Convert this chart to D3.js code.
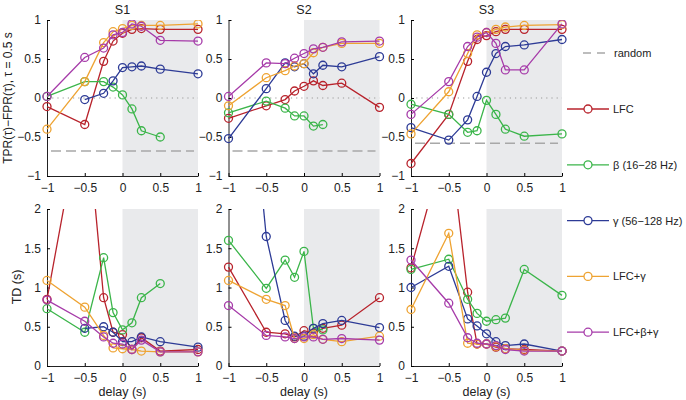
<!DOCTYPE html>
<html>
<head>
<meta charset="utf-8">
<script src="https://cdn.jsdelivr.net/npm/d3@7"></script>
<style>
  body { margin: 0; background: #fff; }
  svg { font-family: "Liberation Sans", Arial, sans-serif; }
</style>
</head>
<body>
<svg width="686" height="400"></svg>
<script>
// delays (s) shared by every panel
const delays = [-1, -0.5, -0.25, -0.125, 0, 0.125, 0.25, 0.5, 1];
const subjects = ["S1", "S2", "S3"];

// TPR-FPR (top row); null = not measured
const tprLFC   = [[-0.11, -0.34, 0.47, 0.73, 0.83, 0.88, 0.89, 0.88, 0.88],
                  [-0.26, -0.10, -0.02, 0.09, 0.15, 0.22, 0.16, 0.19, -0.12],
                  [-0.84, -0.21, 0.47, 0.75, 0.80, 0.85, 0.88, 0.88, 0.88]];
const tprBeta  = [[0.02, 0.21, 0.21, 0.14, 0.04, -0.14, -0.42, -0.50, null],
                  [-0.19, -0.04, -0.13, -0.23, -0.23, -0.36, -0.34, null, null],
                  [-0.08, -0.21, -0.44, -0.42, -0.03, -0.21, -0.40, -0.49, -0.46]];
const tprGamma = [[null, -0.02, 0.06, 0.22, 0.39, 0.40, 0.41, 0.37, 0.31],
                  [-0.52, 0.12, 0.45, 0.40, 0.44, 0.31, 0.42, 0.40, 0.53],
                  [-0.38, -0.54, -0.28, 0.02, 0.33, 0.57, 0.66, 0.68, 0.75]];
const tprLG    = [[-0.40, 0.21, 0.71, 0.85, 0.89, 0.93, 0.93, 0.93, 0.95],
                  [-0.10, 0.26, 0.35, 0.41, 0.44, 0.58, 0.65, 0.70, 0.70],
                  [-0.46, 0.08, 0.57, 0.81, 0.84, 0.88, 0.91, 0.93, 0.94]];
const tprLBG   = [[0.02, 0.52, 0.64, 0.81, 0.84, 0.95, 0.92, 0.74, 0.73],
                  [0.02, 0.45, 0.44, 0.51, 0.57, 0.63, 0.65, 0.72, 0.73],
                  [-0.21, 0.21, 0.66, 0.78, 0.84, 0.70, 0.36, 0.36, 0.95]];
const randomLevel = [-0.68, -0.68, -0.58];

// TD in seconds (bottom row)
const tdLFC   = [[0.85, 3.47, 0.87, 0.43, 0.40, 0.21, 0.36, 0.19, 0.21],
                 [1.26, 0.43, 0.41, 0.37, 0.45, 0.42, 0.48, 0.52, 0.87],
                 [1.25, 3.0, 0.94, 0.28, 0.28, 0.24, 0.22, 0.21, 0.19]];
const tdBeta  = [[0.73, 0.43, 1.38, 0.68, 0.46, 0.55, 0.87, 1.05, null],
                 [1.60, 0.99, 1.35, 1.13, 1.46, 0.48, 0.46, null, null],
                 [1.23, 1.36, 0.85, 0.67, 0.57, 0.59, 0.61, 1.23, 0.90]];
const tdGamma = [[null, 0.48, 0.50, 0.43, 0.31, 0.31, 0.37, 0.31, 0.24],
                 [6.6, 1.65, 0.58, 0.38, 0.38, 0.48, 0.54, 0.58, 0.49],
                 [1.00, 1.27, 0.60, 0.51, 0.41, 0.31, 0.26, 0.28, 0.19]];
const tdLG    = [[1.09, 0.75, 0.39, 0.23, 0.22, 0.21, 0.19, 0.18, 0.18],
                 [1.09, 0.85, 0.77, 0.35, 0.35, 0.40, 0.34, 0.31, 0.38],
                 [0.72, 1.69, 0.29, 0.28, 0.28, 0.25, 0.22, 0.20, 0.19]];
const tdLBG   = [[0.84, 0.57, 0.37, 0.29, 0.28, 0.21, 0.33, 0.18, 0.18],
                 [0.77, 0.39, 0.37, 0.35, 0.37, 0.37, 0.34, 0.35, 0.33],
                 [1.35, 0.80, 0.36, 0.29, 0.28, 0.26, 0.21, 0.19, 0.19]];

const seriesNames = ["LFC", "β (16−28 Hz)", "γ (56−128 Hz)", "LFC+γ", "LFC+β+γ"];
const seriesColors = ["#b8232c", "#3bb54a", "#2d3b96", "#eea332", "#a63ba9"];
const tprSeries = [tprLFC, tprBeta, tprGamma, tprLG, tprLBG];
const tdSeries = [tdLFC, tdBeta, tdGamma, tdLG, tdLBG];

const topTicks = [-1, -0.5, 0, 0.5, 1];
const bottomTicks = [0, 0.5, 1, 1.5, 2];
const xTicks = [-1, -0.5, 0, 0.5, 1];

// --- layout ---
const svg = d3.select("svg");
const colLeft = [47, 228.5, 411];
const pw = 151;
const rows = [
  { top: 20, bottom: 176, domain: [-1, 1], ticks: topTicks, series: tprSeries, label: "TPR(τ)−FPR(τ), τ = 0.5 s" },
  { top: 209, bottom: 366, domain: [0, 2], ticks: bottomTicks, series: tdSeries, label: "TD (s)" }
];

const fmt = v => (v < 0 ? "−" : "") + String(Math.abs(v));

rows.forEach((row, ri) => {
  subjects.forEach((subj, si) => {
    const x = d3.scaleLinear().domain([-1, 1]).range([colLeft[si], colLeft[si] + pw]);
    const y = d3.scaleLinear().domain(row.domain).range([row.bottom, row.top]);
    const g = svg.append("g");
    const clipId = `clip-${ri}-${si}`;
    svg.append("clipPath").attr("id", clipId)
      .append("rect")
      .attr("x", x(-1) - 6).attr("y", row.top)
      .attr("width", pw + 12).attr("height", row.bottom - row.top);

    // shaded region 0..1
    g.append("rect")
      .attr("x", x(0)).attr("y", y(row.domain[1]))
      .attr("width", x(1) - x(0)).attr("height", y(row.domain[0]) - y(row.domain[1]))
      .attr("fill", "#e9eaec");

    if (ri === 0) {
      g.append("line")
        .attr("x1", x(-1)).attr("x2", x(1)).attr("y1", y(0)).attr("y2", y(0))
        .attr("stroke", "#9a9a9a").attr("stroke-width", 1.2)
        .attr("stroke-dasharray", "1.2,4");
      g.append("line")
        .attr("x1", x(-1) + 4).attr("x2", x(1) - 4)
        .attr("y1", y(randomLevel[si])).attr("y2", y(randomLevel[si]))
        .attr("stroke", "#a8a8a8").attr("stroke-width", 1.5)
        .attr("stroke-dasharray", "10,5");
    }

    // axes
    g.append("g")
      .attr("transform", `translate(0,${row.bottom})`)
      .call(d3.axisBottom(x).tickValues(xTicks).tickFormat(fmt)
        .tickSizeInner(-3).tickSizeOuter(0).tickPadding(7))
      .call(a => a.select(".domain").attr("stroke", "#222"))
      .call(a => a.selectAll("text").style("font-size", "12px").attr("fill", "#222"));
    g.append("g")
      .attr("transform", `translate(${x(-1)},0)`)
      .call(d3.axisLeft(y).tickValues(row.ticks).tickFormat(fmt)
        .tickSizeInner(-3).tickSizeOuter(0).tickPadding(6))
      .call(a => a.select(".domain").attr("stroke", "#222"))
      .call(a => a.selectAll("text").style("font-size", "12px").attr("fill", "#222"));

    const plot = g.append("g").attr("clip-path", `url(#${clipId})`);
    row.series.forEach((ser, k) => {
      const pts = delays.map((d, i) => ({ d, v: ser[si][i] })).filter(p => p.v !== null);
      const line = d3.line().x(p => x(p.d)).y(p => y(p.v));
      plot.append("path")
        .datum(pts)
        .attr("fill", "none")
        .attr("stroke", seriesColors[k])
        .attr("stroke-width", 1.3)
        .attr("d", line);
      plot.selectAll(null)
        .data(pts.filter(p => p.v <= row.domain[1]))
        .enter()
        .append("circle")
        .attr("cx", p => x(p.d))
        .attr("cy", p => y(p.v))
        .attr("r", 4)
        .attr("fill", "none")
        .attr("stroke", seriesColors[k])
        .attr("stroke-width", 1.3);
    });

    if (ri === 0) {
      svg.append("text")
        .attr("x", x(0)).attr("y", 14)
        .attr("text-anchor", "middle")
        .style("font-size", "12.5px")
        .attr("fill", "#222")
        .text(subj);
    } else {
      svg.append("text")
        .attr("x", x(0)).attr("y", 396)
        .attr("text-anchor", "middle")
        .style("font-size", "12.5px")
        .attr("fill", "#222")
        .text("delay (s)");
    }
  });
});

// y labels
svg.append("text")
  .attr("transform", "translate(12,98) rotate(-90)")
  .attr("text-anchor", "middle")
  .style("font-size", "12px")
  .attr("fill", "#222")
  .text(rows[0].label);
svg.append("text")
  .attr("transform", "translate(21,287) rotate(-90)")
  .attr("text-anchor", "middle")
  .style("font-size", "12.5px")
  .attr("fill", "#222")
  .text(rows[1].label);

// legend
const leg = svg.append("g");
leg.append("line")
  .attr("x1", 583).attr("x2", 610).attr("y1", 53).attr("y2", 53)
  .attr("stroke", "#a8a8a8").attr("stroke-width", 1.5)
  .attr("stroke-dasharray", "8,6");
leg.append("text")
  .attr("x", 614).attr("y", 57)
  .style("font-size", "11px").attr("fill", "#222")
  .text("random");

seriesNames.forEach((name, k) => {
  const ly = 109 + k * 55.8;
  leg.append("line")
    .attr("x1", 567).attr("x2", 609).attr("y1", ly).attr("y2", ly)
    .attr("stroke", seriesColors[k]).attr("stroke-width", 1.3);
  leg.append("circle")
    .attr("cx", 588).attr("cy", ly).attr("r", 4)
    .attr("fill", "#fff").attr("stroke", seriesColors[k]).attr("stroke-width", 1.3);
  leg.append("text")
    .attr("x", 613).attr("y", ly + 4)
    .style("font-size", "11px").attr("fill", "#222")
    .text(name);
});
</script>
</body>
</html>
